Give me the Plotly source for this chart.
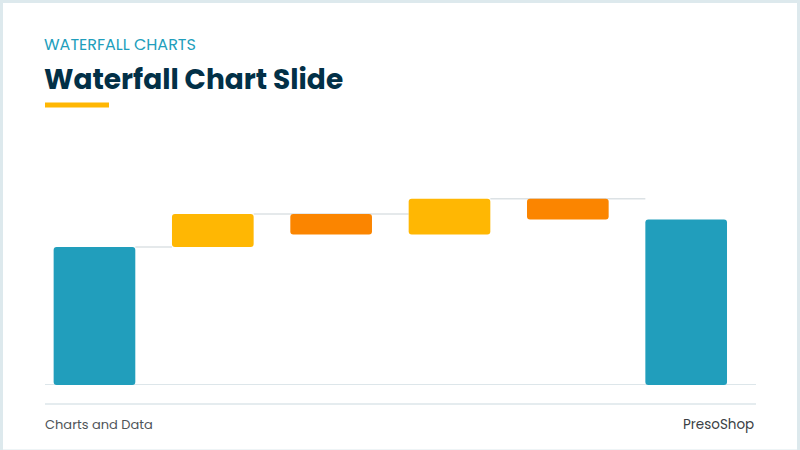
import plotly.graph_objects as go

# waterfall steps: first and last are totals, the rest are changes
steps = ["Start", "Rise 1", "Drop 1", "Rise 2", "Drop 2", "End"]
values = [100, 24, -15, 26, -15, 120]
is_total = [True, False, False, False, False, True]

# connectors as (from step, to step)
connectors = [(0, 1), (1, 3), (3, 5)]

BLUE = "#219EBC"
YELLOW = "#FFB703"
ORANGE = "#FB8500"
NAVY = "#023047"
GRID = "#DDE6EA"

# running level for each step
bases, heights, ends, colors = [], [], [], []
level = 0
for v, tot in zip(values, is_total):
    if tot:
        bases.append(0)
        heights.append(v)
        level = v
        colors.append(BLUE)
    else:
        new = level + v
        bases.append(min(level, new))
        heights.append(abs(v))
        level = new
        colors.append(YELLOW if v > 0 else ORANGE)
    ends.append(level)

BAR_W = 0.69
xs = list(range(len(steps)))

fig = go.Figure(go.Bar(
    x=xs, y=heights, base=bases, width=BAR_W,
    marker=dict(color=colors, line=dict(width=0), cornerradius=3),
    hovertext=steps, hoverinfo="text",
))

shapes = []
for a, b in connectors:
    shapes.append(dict(
        type="line", xref="x", yref="y", layer="below",
        x0=a + BAR_W / 2, x1=b - BAR_W / 2, y0=ends[a], y1=ends[a],
        line=dict(color="#DCE2E5", width=1.5),
    ))

# baseline and footer rule
shapes.append(dict(type="line", xref="paper", yref="y", layer="below",
                   x0=0, x1=1, y0=0, y1=0, line=dict(color=GRID, width=2)))
shapes.append(dict(type="line", xref="paper", yref="paper",
                   x0=0, x1=1, y0=-0.081, y1=-0.081, line=dict(color=GRID, width=1.5)))
# yellow accent under the title
shapes.append(dict(type="line", xref="paper", yref="paper",
                   x0=0.0, x1=0.0900, y0=1.191, y1=1.191,
                   line=dict(color=YELLOW, width=5)))
# slide border
shapes.append(dict(type="rect", xref="paper", yref="paper",
                   x0=-0.0612, x1=1.0598, y0=-0.2809, y1=1.6319,
                   line=dict(color="#DDE9ED", width=3)))

FONT = "Poppins, Inter, Lato, sans-serif"
annotations = [
    dict(text="WATERFALL CHARTS", x=0, y=1.447, xref="paper", yref="paper",
         xanchor="left", yanchor="middle", showarrow=False, xshift=-3,
         font=dict(family=FONT, size=16, color=BLUE)),
    dict(text="<b>Waterfall Chart Slide</b>", x=0, y=1.302, xref="paper", yref="paper",
         xanchor="left", yanchor="middle", showarrow=False, xshift=-3,
         font=dict(family=FONT, size=28, color=NAVY)),
    dict(text="Charts and Data", x=0, y=-0.166, xref="paper", yref="paper",
         xanchor="left", yanchor="middle", showarrow=False, xshift=-2,
         font=dict(family=FONT, size=13, color="#4F5559")),
    dict(text="PresoShop", x=1, y=-0.166, xref="paper", yref="paper",
         xanchor="right", yanchor="middle", showarrow=False,
         font=dict(family=FONT, size=13.5, color="#3A4044")),
]

fig.update_layout(
    width=800, height=450,
    margin=dict(l=45, r=44, t=150, b=65),
    paper_bgcolor="white", plot_bgcolor="white",
    showlegend=False,
    xaxis=dict(range=[-0.418, 5.59], visible=False, fixedrange=True),
    yaxis=dict(range=[0, 170.3], visible=False, fixedrange=True),
    shapes=shapes,
    annotations=annotations,
)

# drop the default page margin so the slide sits at the window corner
fig.write_html("out.html", config={"displayModeBar": False},
               post_script="document.body.style.margin='0';")
